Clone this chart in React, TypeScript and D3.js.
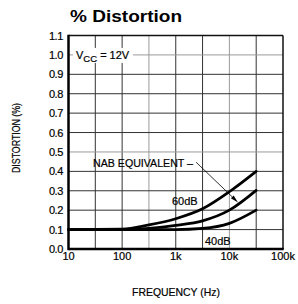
import { useEffect, useRef } from 'react';
import * as d3 from 'd3';

const W = 298;
const H = 304;

// frequencies (Hz) the curves were read at
const FREQ = [10, 100, 316, 1000, 3162, 10000, 31623];
const NAB = [0.1, 0.102, 0.124, 0.156, 0.207, 0.295, 0.4];
const DB60 = [0.1, 0.1, 0.107, 0.122, 0.145, 0.2, 0.302];
const DB40 = [0.1, 0.1, 0.1, 0.1, 0.106, 0.132, 0.2];

const X_TICKS = [10, 100, 1000, 10000, 100000];
const X_TICK_LABELS = ['10', '100', '1k', '10k', '100k'];
const X_GRID = [31.62, 100, 316.2, 1000, 3162, 10000, 31623];
const X_GRID_LIGHT = [316.2, 10000];
const Y_TICKS = d3.range(0, 12).map((i) => i / 10);
const Y_GRID_LIGHT = [0.5, 1.0];

// annotation anchors: [freq, value]
const ARROW_FROM: [number, number] = [2400, 0.447];
const ARROW_TIP: [number, number] = [14500, 0.24];

export default function App() {
  const svgRef = useRef<SVGSVGElement>(null);

  useEffect(() => {
    if (!svgRef.current) return;
    const svg = d3.select(svgRef.current);
    svg.selectAll('*').remove();

    const x = d3.scaleLog().domain([10, 100000]).range([68.5, 283]);
    const y = d3.scaleLinear().domain([0, 1.1]).range([249, 35.5]);
    const font = 'Liberation Sans, Arial, sans-serif';

    svg.append('rect').attr('width', W).attr('height', H).attr('fill', '#fff');

    // title
    svg.append('text')
      .attr('x', 126).attr('y', 22)
      .attr('text-anchor', 'middle')
      .attr('font-family', font).attr('font-weight', 'bold').attr('font-size', 17)
      .attr('textLength', 112).attr('lengthAdjust', 'spacingAndGlyphs')
      .text('% Distortion');

    const g = svg.append('g');

    // grid
    X_GRID.forEach((f) => {
      const light = X_GRID_LIGHT.includes(f);
      g.append('line')
        .attr('x1', x(f)).attr('x2', x(f))
        .attr('y1', y(1.1)).attr('y2', y(0))
        .attr('stroke', light ? '#9a9a9a' : '#333')
        .attr('stroke-width', 1);
    });
    Y_TICKS.slice(1, 11).forEach((v) => {
      const light = Y_GRID_LIGHT.some((l) => Math.abs(l - v) < 1e-6);
      g.append('line')
        .attr('x1', x(10)).attr('x2', x(100000))
        .attr('y1', y(v)).attr('y2', y(v))
        .attr('stroke', light ? '#9a9a9a' : '#333')
        .attr('stroke-width', 1);
    });

    // frame
    g.append('line').attr('x1', x(10)).attr('x2', x(100000)).attr('y1', y(1.1)).attr('y2', y(1.1))
      .attr('stroke', '#111').attr('stroke-width', 1.5);
    g.append('line').attr('x1', x(100000)).attr('x2', x(100000)).attr('y1', y(1.1)).attr('y2', y(0))
      .attr('stroke', '#111').attr('stroke-width', 1.5);
    g.append('line').attr('x1', x(10)).attr('x2', x(10)).attr('y1', y(1.1) - 0.75).attr('y2', y(0) + 1.2)
      .attr('stroke', '#000').attr('stroke-width', 2.5);
    g.append('line').attr('x1', x(10)).attr('x2', x(100000) + 0.75).attr('y1', y(0)).attr('y2', y(0))
      .attr('stroke', '#000').attr('stroke-width', 2.5);

    // curves
    const line = d3.line<number>()
      .x((_, i) => x(FREQ[i]))
      .y((d) => y(d))
      .curve(d3.curveMonotoneX);
    [NAB, DB60, DB40].forEach((series) => {
      g.append('path')
        .attr('d', line(series) || '')
        .attr('fill', 'none')
        .attr('stroke', '#000')
        .attr('stroke-width', 2.7)
        .attr('stroke-linecap', 'round');
    });

    const label = (t: d3.Selection<SVGTextElement, unknown, null, undefined>) =>
      t.attr('font-family', font).attr('font-size', 11)
        .attr('stroke', '#000').attr('stroke-width', 0.2);

    // y ticks
    Y_TICKS.forEach((v) => {
      svg.append('text')
        .attr('x', 63).attr('y', y(v) + 4)
        .attr('text-anchor', 'end')
        .call(label)
        .attr('letter-spacing', -0.4)
        .text(v.toFixed(1));
    });

    // x ticks
    X_TICKS.forEach((f, i) => {
      svg.append('text')
        .attr('x', x(f)).attr('y', 259.5)
        .attr('text-anchor', 'middle')
        .call(label)
        .text(X_TICK_LABELS[i]);
    });

    // axis titles
    svg.append('text')
      .attr('x', 176).attr('y', 296)
      .attr('text-anchor', 'middle')
      .call(label)
      .attr('textLength', 88).attr('lengthAdjust', 'spacingAndGlyphs')
      .text('FREQUENCY (Hz)');
    svg.append('text')
      .attr('transform', 'translate(19.5,138) rotate(-90)')
      .attr('text-anchor', 'middle')
      .call(label)
      .attr('font-size', 10.5)
      .attr('textLength', 70).attr('lengthAdjust', 'spacingAndGlyphs')
      .text('DISTORTION (%)');

    // Vcc label over the 1.0 grid line
    g.append('rect')
      .attr('x', 73).attr('y', y(1.0) - 7).attr('width', 60).attr('height', 15)
      .attr('fill', '#fff');
    const vcc = svg.append('text')
      .attr('x', 76).attr('y', y(1.0) + 4)
      .call(label);
    vcc.append('tspan').text('V');
    vcc.append('tspan').attr('dy', 3).attr('font-size', 9.5).text('CC');
    vcc.append('tspan').attr('dy', -3).text(' = 12V');

    // NAB annotation
    svg.append('text')
      .attr('x', 93).attr('y', 167)
      .call(label)
      .attr('textLength', 100).attr('lengthAdjust', 'spacingAndGlyphs')
      .text('NAB  EQUIVALENT –');
    const [x0, y0] = [x(ARROW_FROM[0]), y(ARROW_FROM[1])];
    const [x1, y1] = [x(ARROW_TIP[0]), y(ARROW_TIP[1])];
    const ang = Math.atan2(y1 - y0, x1 - x0);
    const headLen = 8;
    const bx = x1 - headLen * Math.cos(ang);
    const by = y1 - headLen * Math.sin(ang);
    svg.append('line')
      .attr('x1', x0).attr('y1', y0).attr('x2', bx).attr('y2', by)
      .attr('stroke', '#000').attr('stroke-width', 0.8);
    const px = -Math.sin(ang) * 2;
    const py = Math.cos(ang) * 2;
    svg.append('path')
      .attr('d', `M${x1},${y1}L${bx + px},${by + py}L${bx - px},${by - py}Z`)
      .attr('fill', '#000');

    // dB labels
    svg.append('text')
      .attr('x', 172).attr('y', 205)
      .call(label)
      .text('60dB');
    svg.append('text')
      .attr('x', 205).attr('y', 245)
      .call(label)
      .text('40dB');
  }, []);

  return (
    <svg
      ref={svgRef}
      width={W}
      height={H}
      viewBox={`0 0 ${W} ${H}`}
      style={{ position: 'absolute', left: 0, top: 0 }}
    />
  );
}
